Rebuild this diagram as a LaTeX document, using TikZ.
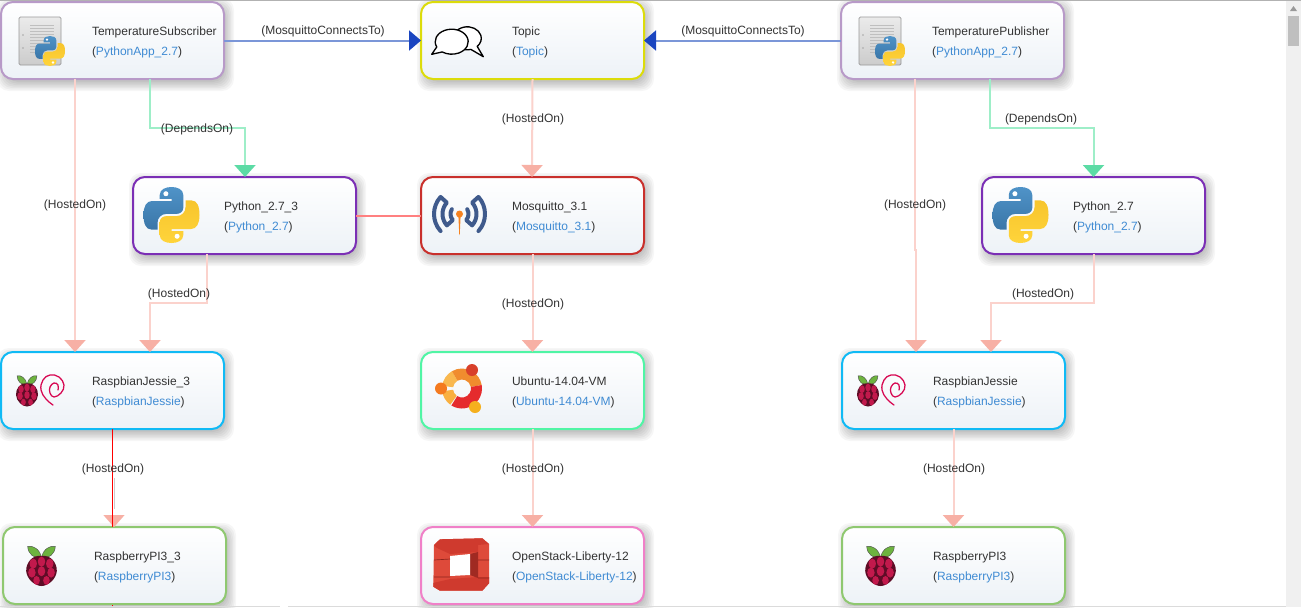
\documentclass[tikz,border=0pt]{standalone}
\usepackage{fontspec}
\setmainfont{Liberation Sans}
\usetikzlibrary{arrows.meta,calc}
\pgfdeclarelayer{bg}
\pgfsetlayers{bg,main}
\definecolor{ink}{HTML}{333333}
\definecolor{lnk}{HTML}{3F8BD3}
\definecolor{cSub}{HTML}{B89AC8}
\definecolor{cTop}{HTML}{DCDC0A}
\definecolor{cPy}{HTML}{7B2FB5}
\definecolor{cMos}{HTML}{C9302C}
\definecolor{cRj}{HTML}{10BAF5}
\definecolor{cUb}{HTML}{50F5A5}
\definecolor{cPi}{HTML}{8FC870}
\definecolor{cOs}{HTML}{F080C8}
\definecolor{hLine}{HTML}{FBD2CC}
\definecolor{hHead}{HTML}{F7B0A5}
\definecolor{dLine}{HTML}{9EEEC8}
\definecolor{dHead}{HTML}{5CDBA5}
\definecolor{mLine}{HTML}{7B96D8}
\definecolor{mHead}{HTML}{1A45C0}
\definecolor{pBlue}{HTML}{3A76A8}
\definecolor{pBlueL}{HTML}{4F93C8}
\definecolor{pYel}{HTML}{FFD43B}
\definecolor{pYelD}{HTML}{F7C52D}
\definecolor{rasRed}{HTML}{C2194C}
\definecolor{rasDark}{HTML}{5E0C26}
\definecolor{rasGrn}{HTML}{6DB33F}
\definecolor{deb}{HTML}{D70751}
\definecolor{mosBlue}{HTML}{3F5A8C}
\definecolor{cardEnd}{HTML}{EDF2F7}
\definecolor{osFront}{HTML}{DE4A3A}
\definecolor{osTop}{HTML}{CF3A2E}
\definecolor{osDark}{HTML}{A02A22}
\definecolor{osSeam}{HTML}{8E241C}
\definecolor{ubA}{HTML}{F9B84F}
\definecolor{ubB}{HTML}{F08C2E}
\definecolor{ubC}{HTML}{E52B2D}
\definecolor{ubD}{HTML}{F9B040}
\definecolor{ubE}{HTML}{D8402A}
\definecolor{ubF}{HTML}{F47A1F}
\definecolor{ubG}{HTML}{F5B01E}
\definecolor{mosOr}{HTML}{F58220}
\tikzset{
  x=0.75pt,y=-0.75pt,
  cardbox/.style={rectangle,rounded corners=9pt,line width=1.5pt,outer sep=0pt,inner sep=0pt,
    minimum width=167.25pt,minimum height=57.75pt,top color=white,bottom color=cardEnd},
  cardtext/.style={anchor=base west,inner sep=0pt,outer sep=0pt,text=ink,font=\fontsize{9}{11}\selectfont},
  edgelabel/.style={inner sep=0pt,text=ink,font=\fontsize{9}{11}\selectfont},
  hosted/.style={draw=hLine,line width=1.5pt,-{Triangle[length=9pt,width=15.75pt,color=hHead]}},
  depends/.style={draw=dLine,line width=1.5pt,-{Triangle[length=9pt,width=15.75pt,color=dHead]}},
  connects/.style={draw=mLine,line width=1.5pt,-{Triangle[length=9pt,width=15pt,color=mHead]}},
}
% python logo: centred on origin, half size 1
\newcommand{\pyshape}{(-0.42,-0.72) .. controls (-0.42,-0.92) and (-0.2,-1) .. (0,-1) .. controls (0.2,-1) and (0.42,-0.92) .. (0.42,-0.72) -- (0.42,-0.25) .. controls (0.42,-0.12) and (0.3,-0.04) .. (0.18,-0.04) -- (-0.18,-0.04) .. controls (-0.36,-0.04) and (-0.5,0.1) .. (-0.5,0.28) -- (-0.5,0.52) -- (-0.72,0.52) .. controls (-0.92,0.52) and (-1,0.3) .. (-1,0) .. controls (-1,-0.3) and (-0.9,-0.5) .. (-0.7,-0.5) -- (0,-0.5) -- (0,-0.58) -- (-0.42,-0.58) -- cycle}
\newcommand{\pylogo}[3]{%
  \begin{scope}[shift={(#1,#2)},scale=#3]
    \shade[top color=pBlueL,bottom color=pBlue] \pyshape;
    \fill[white] (-0.2,-0.76) circle[radius=0.09];
    \begin{scope}[rotate=180]
      \shade[top color=pYelD,bottom color=pYel] \pyshape;
      \fill[white] (-0.2,-0.76) circle[radius=0.09];
    \end{scope}
  \end{scope}}
\newcommand{\icoApp}{%
  \shade[top color=black!8,bottom color=black!20,draw=black!40,line width=0.6pt,rounded corners=1pt] (18,15) rectangle (60,63);
  \foreach \yy in {23,26,...,50}{\draw[black!25,line width=0.7pt] (29,\yy) -- (53,\yy);}
  \fill[black!35] (22,33) circle[radius=0.8];
  \fill[black!35] (22,46) circle[radius=0.8];
  \pylogo{49}{49}{15}}
\newcommand{\icoPy}{\pylogo{38.5}{38}{28}}
\newcommand{\icoTopic}{%
  \draw[black,line width=1pt,fill=white,line join=round] (46.3,36.3) ++(75:14 and 11.5) arc[start angle=75,end angle=405,x radius=14,y radius=11.5] -- (62.3,54.7) -- cycle;
  \draw[black,line width=1pt,fill=white,line join=round] (30.7,39.7) ++(155:16.5 and 12.5) arc[start angle=155,end angle=485,x radius=16.5,y radius=12.5] -- (10.7,52.3) -- cycle;}
\newcommand{\mosside}{%
  \draw[mosBlue,line width=3pt,line join=round,line cap=round]
    (138:25.5) arc[start angle=138,end angle=222,radius=25.5]
    -- (222:17) arc[start angle=222,end angle=138,radius=17]
    -- (138:9) arc[start angle=138,end angle=212,radius=9];}
\newcommand{\icoMos}{%
  \begin{scope}[shift={(38.5,37)}]
    \mosside
    \begin{scope}[xscale=-1]\mosside\end{scope}
    \fill[mosOr] (-1.2,0) -- (1.2,0) -- (0.2,21) -- (-0.2,21) -- cycle;
    \fill[mosOr] (0,0) circle[radius=3.5];
  \end{scope}}
\newcommand{\rasp}[4]{% cx cy sx sy
  \begin{scope}[shift={(#1,#2)},xscale=#3,yscale=#4]
    \fill[rasGrn,draw=black!70,line width=0.3pt] (0,-0.42) .. controls (-0.1,-0.85) and (-0.6,-1.05) .. (-0.92,-0.98) .. controls (-0.9,-0.6) and (-0.5,-0.35) .. (0,-0.42) -- cycle;
    \fill[rasGrn,draw=black!70,line width=0.3pt] (0,-0.42) .. controls (0.1,-0.85) and (0.6,-1.05) .. (0.92,-0.98) .. controls (0.9,-0.6) and (0.5,-0.35) .. (0,-0.42) -- cycle;
    \fill[rasDark] (0,-0.5) .. controls (0.6,-0.58) and (1.05,-0.15) .. (1.02,0.25) .. controls (0.98,0.68) and (0.4,1) .. (0,1) .. controls (-0.4,1) and (-0.98,0.68) .. (-1.02,0.25) .. controls (-1.05,-0.15) and (-0.6,-0.58) .. (0,-0.5) -- cycle;
    \foreach \xx/\yy/\rr in {0/-0.22/0.25,-0.55/-0.12/0.25,0.55/-0.12/0.25,0/0.26/0.25,-0.64/0.33/0.25,0.64/0.33/0.25,-0.33/0.72/0.22,0.33/0.72/0.22}{%
      \fill[rasRed] (\xx,\yy) ellipse[x radius=\rr,y radius=\rr];}
  \end{scope}}
\newcommand{\icoRj}{%
  \rasp{26}{39}{10.8}{15.5}
  \draw[deb,line width=0.95pt,line cap=round] plot[smooth,tension=0.7] coordinates {(52,53) (45,47) (40,38) (42,28) (49,23) (58,25) (63,33) (60,41) (53,45) (49,41) (49,35) (53,31) (57,33) (57,38)};}
\newcommand{\icoPi}{\rasp{38.5}{39}{15}{20}}
\newcommand{\sect}[2]{(#1:20) arc[start angle=#1,end angle=#2,radius=20] -- (#2:9) arc[start angle=#2,end angle=#1,radius=9] -- cycle}
\newcommand{\icoUb}{%
  \begin{scope}[shift={(41,36.5)}]
    \fill[ubA] \sect{-172}{-120};
    \fill[ubB] \sect{-120}{-10};
    \fill[ubC] \sect{-10}{122};
    \fill[ubD] \sect{126}{172};
    \fill[ubE] (10,-18.5) circle[radius=6];
    \fill[ubF] (-21,0) circle[radius=6];
    \fill[ubG] (13,18.5) circle[radius=6];
  \end{scope}}
\newcommand{\icoOs}{%
  \fill[osFront] (13,18) -- (19,12.3) -- (61.3,11.3) -- (68,17) -- (68,56.3) -- (61.3,63.7) -- (19,63.7) -- (12.3,59.7) -- cycle;
  \fill[osTop] (13,18) -- (19,12.3) -- (61.3,11.3) -- (68,17) -- (57,18) -- (57,25) -- (29,27) -- (16,21) -- cycle;
  \fill[osTop] (12.3,56) -- (29,52) -- (57,50) -- (68,50) -- (68,56.3) -- (61.3,63.7) -- (19,63.7) -- (12.3,59.7) -- cycle;
  \fill[osDark] (49,27) -- (57,25) -- (57,51) -- (49,48) -- cycle;
  \fill[white] (29,29) -- (49,27) -- (49,48) -- (29,49) -- cycle;
  \draw[osSeam,line width=0.5pt] (13,33) -- (29,32) (13,50) -- (29,50) (57,33) -- (68,33) (57,51) -- (68,51);}
% card: name, x, y, colour, title, type, icon
\newcommand{\mkcard}[7]{%
  \begin{pgfonlayer}{bg}
    \foreach \gg in {0,1.5,...,9}{%
      \fill[black,fill opacity=0.035,rounded corners=9pt] ({#2+5-\gg},{#3+5-\gg}) rectangle ({#2+223+1+\gg},{#3+77+3+\gg});}
  \end{pgfonlayer}
  \node[cardbox,draw=#4] (#1) at ({#2+111.5},{#3+38.5}) {};
  \begin{scope}[shift={(#2,#3)}]#7\end{scope}
  \node[cardtext] (#1-title) at ({#2+91},{#3+33}) {#5};
  \node[cardtext] (#1-type) at ({#2+91},{#3+53}) {(\textcolor{lnk}{#6})};}
\begin{document}
\begin{tikzpicture}
\useasboundingbox (0,0) rectangle (1301,607);
\begin{pgfonlayer}{bg}
  \fill[white] (0,0) rectangle (1301,607);
\end{pgfonlayer}
% cards
\mkcard{sub}{1}{2}{cSub}{TemperatureSubscriber}{PythonApp\_2.7}{\icoApp}
\mkcard{topic}{421}{2}{cTop}{Topic}{Topic}{\icoTopic}
\mkcard{pub}{841}{2}{cSub}{TemperaturePublisher}{PythonApp\_2.7}{\icoApp}
\mkcard{pyb}{133}{177}{cPy}{Python\_2.7\_3}{Python\_2.7}{\icoPy}
\mkcard{mosq}{421}{177}{cMos}{Mosquitto\_3.1}{Mosquitto\_3.1}{\icoMos}
\mkcard{pya}{982}{177}{cPy}{Python\_2.7}{Python\_2.7}{\icoPy}
\mkcard{rjb}{1}{352}{cRj}{RaspbianJessie\_3}{RaspbianJessie}{\icoRj}
\mkcard{ubu}{421}{352}{cUb}{Ubuntu-14.04-VM}{Ubuntu-14.04-VM}{\icoUb}
\mkcard{rja}{842}{352}{cRj}{RaspbianJessie}{RaspbianJessie}{\icoRj}
\mkcard{pib}{3}{527}{cPi}{RaspberryPI3\_3}{RaspberryPI3}{\icoPi}
\mkcard{osk}{421}{527}{cOs}{OpenStack-Liberty-12}{OpenStack-Liberty-12}{\icoOs}
\mkcard{pia}{842}{527}{cPi}{RaspberryPI3}{RaspberryPI3}{\icoPi}
% connectors
\draw[connects] (sub.east) -- (topic.west);
\draw[connects] (pub.west) -- (topic.east);
\draw[hosted] ($(sub.south)+(-37.5,0)$) -- ($(rjb.north)+(-37.5,0)$);
\draw[depends] ($(sub.south)+(37.5,0)$) -- ++(0,49) -| ($(pyb.north)+(0.5,0)$);
\draw[hosted] ($(pyb.south)+(-37.5,0)$) -- ++(0,49) -| ($(rjb.north)+(37.5,0)$);
\draw[draw=red!50!white,line width=1.5pt] (pyb.east) -- (mosq.west);
\draw[hosted] (topic.south) -- ($(mosq.north)+(-0.5,0)$);
\draw[hosted] (mosq.south) -- (ubu.north);
\draw[hosted] (ubu.south) -- (osk.north);
\draw[black!20,line width=0.5pt] ($(rjb.south)+(2,49)$) -- ($(pib.north)+(0,-7)$);
\draw[draw=white,line width=0.1pt,-{Triangle[length=9pt,width=15.75pt,color=hHead]}] ($(rjb.south)+(1.5,80)$) -- ($(pib.north)+(-0.5,0)$);
\draw[red,line width=0.9pt] (rjb.south) -- ($(pib.north)+(-2,0)$);
\draw[red,line width=0.5pt] ($(pib.south)+(-2,1)$) -- ++(0,2);
\draw[hosted] ($(pub.south)+(-37.5,0)$) -- ++(0,171) -- ++(1,0) -- ($(rja.north)+(-37.5,0)$);
\draw[depends] ($(pub.south)+(37.5,0)$) -- ++(0,49) -| (pya.north);
\draw[hosted] (pya.south) -- ++(0,49) -| ($(rja.north)+(37.5,0)$);
\draw[hosted] (rja.south) -- (pia.north);
% labels
\node[edgelabel] (l1) at (323,31) {(MosquittoConnectsTo)};
\node[edgelabel] (l2) at (743,31) {(MosquittoConnectsTo)};
\node[edgelabel] (l3) at (197,129) {(DependsOn)};
\node[edgelabel] (l4) at (1041,119) {(DependsOn)};
\node[edgelabel] (l5) at (75,205) {(HostedOn)};
\node[edgelabel] (l6) at (533,119) {(HostedOn)};
\node[edgelabel] (l7) at (915,205) {(HostedOn)};
\node[edgelabel] (l8) at (179,294) {(HostedOn)};
\node[edgelabel] (l9) at (533,304) {(HostedOn)};
\node[edgelabel] (l10) at (1043,294) {(HostedOn)};
\node[edgelabel] (l11) at (113,469) {(HostedOn)};
\node[edgelabel] (l12) at (533,469) {(HostedOn)};
\node[edgelabel] (l13) at (954,469) {(HostedOn)};
% window chrome
\fill[black!30] (0,0) rectangle (1301,1);
\fill[black!14] (0,606) rectangle (280,607);
\fill[black!14] (288,606) rectangle (1286,607);
\fill[black!6] (1286,1) rectangle (1301,607);
\fill[black!25] (1288,16) rectangle (1299,46);
\fill[black!40] (1293.5,6) -- (1297,11) -- (1290,11) -- cycle;
\end{tikzpicture}
\end{document}
